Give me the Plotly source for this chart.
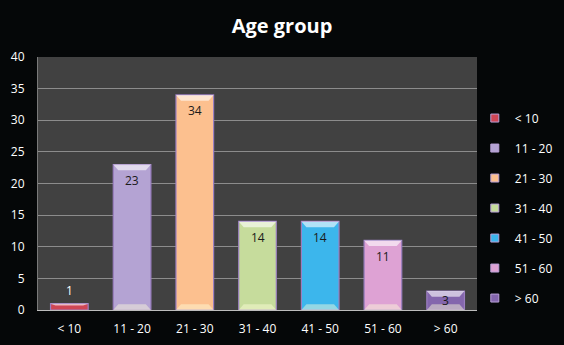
import plotly.graph_objects as go

categories = ["< 10", "11 - 20", "21 - 30", "31 - 40", "41 - 50", "51 - 60", "> 60"]
values = [1, 23, 34, 14, 14, 11, 3]
colors = ["#cf4655", "#b4a3d3", "#fcc08f", "#c6dc9c", "#3cb6ec", "#dea2d4", "#8466ad"]
y_ticks = [0, 5, 10, 15, 20, 25, 30, 35, 40]

PX_PER_UNIT = 253 / 40.0

fig = go.Figure()
for i, (c, v, col) in enumerate(zip(categories, values, colors)):
    fig.add_trace(go.Bar(
        x=[c], y=[v], name=c, showlegend=False,
        marker=dict(color=col, line=dict(color="#9b7fc0", width=1.2)),
        width=0.6,
    ))
    # legend entry with a small square swatch
    fig.add_trace(go.Scatter(
        x=[None], y=[None], mode="markers", name=c, legendgroup=c,
        marker=dict(symbol="square", size=8, color=col,
                    line=dict(color="#b9a0d8", width=1)),
    ))
    # data label
    outside = v < 2
    if outside:
        shift = 13
    else:
        shift = -min(16, v * PX_PER_UNIT / 2)
    fig.add_annotation(x=c, y=v, text=str(v), showarrow=False, yshift=shift,
                       font=dict(color="#ffffff" if outside else "#1a1a1a", size=12,
                                 family="Open Sans"))
    # bevel highlights derived from the data value
    bw = 0.3
    ix = 0.08
    iy = 0.9 if v > 2 else min(0.8, v * 0.3)
    fig.add_shape(type="path", xref="x", yref="y",
                  path=f"M {i-bw},{v} L {i+bw},{v} L {i+bw-ix},{v-iy} L {i-bw+ix},{v-iy} Z",
                  fillcolor="rgba(255,255,255,0.6)", line=dict(width=0), layer="above")
    if v > 2:
        fig.add_shape(type="path", xref="x", yref="y",
                      path=f"M {i-bw},0 L {i+bw},0 L {i+bw-ix},{iy} L {i-bw+ix},{iy} Z",
                      fillcolor="rgba(255,255,220,0.45)", line=dict(width=0), layer="above")

fig.update_layout(
    width=564, height=345,
    margin=dict(l=38, r=87, t=57, b=35, autoexpand=False),
    paper_bgcolor="#050708",
    plot_bgcolor="#414141",
    barmode="overlay",
    showlegend=True,
    title=dict(text="<b>Age group</b>", x=0.5, xanchor="center", y=0.925, yanchor="middle",
               font=dict(color="#ffffff", size=20, family="Open Sans")),
    font=dict(color="#ffffff", family="Open Sans", size=12),
    legend=dict(x=0.995, xanchor="left", y=0.816, yanchor="top",
                font=dict(color="#ffffff", size=12, family="Open Sans"),
                tracegroupgap=11, itemwidth=30, bgcolor="rgba(0,0,0,0)"),
    xaxis=dict(type="category", categoryorder="array", categoryarray=categories,
               showgrid=False, showline=True, linecolor="#bdbdbd", linewidth=1,
               tickfont=dict(color="#ffffff", size=12), ticks="", ticklabelstandoff=8),
    yaxis=dict(range=[0, 40], tickvals=y_ticks, showgrid=True, gridcolor="#8c8c8c",
               gridwidth=1, zeroline=False, showline=True, linecolor="#7a7a7a",
               tickfont=dict(color="#ffffff", size=12), ticks="", ticklabelstandoff=10),
)

fig.write_html("out.html", post_script="document.body.style.margin='0';",
               config={"displayModeBar": False})
